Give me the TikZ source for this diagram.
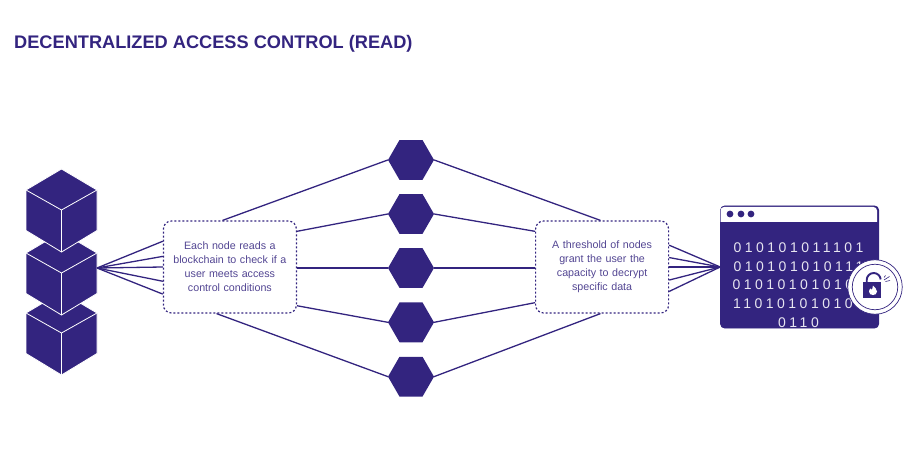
\documentclass[tikz,border=0pt]{standalone}
\usepackage{fontspec}
\setmainfont{Liberation Sans}
\usepackage{xcolor}
\usetikzlibrary{positioning, shapes.geometric}
\definecolor{deeppurple}{HTML}{33247F}

\begin{document}
\begin{tikzpicture}[
  x=1pt, y=-1pt,
  hexnode/.style={regular polygon, regular polygon sides=6,
                  fill=deeppurple, inner sep=0pt, outer sep=0pt, minimum size=46pt},
  notebox/.style={draw=deeppurple, dash pattern=on 2pt off 2pt, line width=1.2pt, rounded corners=8pt,
                  minimum width=133pt, minimum height=92pt, align=center, text width=125pt,
                  font=\fontsize{10.7}{14}\selectfont, text=deeppurple!85!white},
  wire/.style={draw=deeppurple, line width=1.3pt},
  cubeblock/.pic={
    \fill[deeppurple, draw=white, line width=0.8pt]
      (0,-41) -- (35.5,-20) -- (35.5,20.5) -- (0,42) -- (-35.5,20.5) -- (-35.5,-20) -- cycle;
    \draw[white, line width=0.8pt] (-35.5,-20) -- (0,0) -- (35.5,-20) (0,0) -- (0,42);
  }
]
  % Page
  \useasboundingbox (0,0) rectangle (918,449);

  % Title
  \node[anchor=west, inner sep=0pt, text=deeppurple, font=\fontsize{18.2}{20}\selectfont\bfseries]
    (title) at (14,43.5) {DECENTRALIZED ACCESS CONTROL (READ)};

  % Cubes
  \pic at (61.5,333) {cubeblock};
  \pic at (61.5,273) {cubeblock};
  \pic at (61.5,210) {cubeblock};
  \coordinate (cubeport) at (97,268);

  % Hexagons
  \node[hexnode] (hexc) at (411,268) {};
  \node[hexnode, above=14.2pt of hexc] (hexb) {};
  \node[hexnode, above=14.2pt of hexb] (hexa) {};
  \node[hexnode, below=14.5pt of hexc] (hexd) {};
  \node[hexnode, below=14.5pt of hexd] (hexe) {};

  % Boxes
  \node[notebox, left=91pt of hexc, yshift=1pt] (readbox)
    {Each node reads a\\blockchain to check if a\\user meets access\\control conditions};
  \node[notebox, right=101pt of hexc, yshift=1pt] (thresholdbox)
    {A threshold of nodes\\grant the user the\\capacity to decrypt\\specific data};

  % Browser window
  \node[draw=deeppurple, fill=deeppurple, line width=0.8pt, rounded corners=4pt, minimum width=158pt,
        minimum height=122pt, inner sep=0pt, right=51pt of thresholdbox] (window) {};
  \fill[white] (720.5,222) [rounded corners=3.5pt] -- (720.5,207) -- (877,207) [sharp corners] -- (877,222) -- cycle;
  \foreach \dotx in {730,741,751}
    \fill[deeppurple] (\dotx,214) circle (3.4);
  \node[inner sep=0pt, align=center, text=white!88!deeppurple,
        font=\fontsize{14}{18.8}\selectfont\addfontfeature{LetterSpace=25}] (digits) at (798.5,285)
    {010101011101\\010101010111\\010101010101\\110101010101\\0110};

  % Lock badge
  \node[circle, draw=deeppurple, fill=white, line width=0.7pt, minimum size=54.5pt, inner sep=0pt] (badge) at (875,287) {};
  \node[circle, draw=deeppurple, line width=0.7pt, minimum size=45.5pt, inner sep=0pt] (badgering) at (badge) {};
  \fill[deeppurple] (863,282) rectangle (881,298);
  \draw[deeppurple, line width=1.9pt] (866.7,283) -- (866.7,280) arc[start angle=180, end angle=355, radius=7];
  \fill[white] (873,285.5) .. controls (874.5,288) and (877,288.5) .. (877,291.5)
    .. controls (877,294) and (875,295) .. (873,295)
    .. controls (871,295) and (869,294) .. (869,291.5)
    .. controls (869,290) and (870,289) .. (870.5,288.5)
    .. controls (871,289.5) and (871.5,290) .. (872,290)
    .. controls (872,288.5) and (872,287) .. (873,285.5) -- cycle;
  \draw[deeppurple, line width=0.6pt] (884,280) -- (889.5,276.5) (885.5,281.5) -- (890,280.5) (884,277.5) -- (885.5,275.5);

  % Edges
  \foreach \ang in {159,171,180,192,202}
    \draw[wire] (cubeport) -- (readbox.\ang);
  \draw[wire] (readbox.99) -- (hexa.west);
  \draw[wire] (readbox.28) -- (hexb.west);
  \draw[wire] (hexc.west -| readbox.east) -- (hexc.west);
  \draw[wire] (readbox.-30) -- (hexd.west);
  \draw[wire] (readbox.-106) -- (hexe.west);
  \draw[wire] (hexa.east) -- (thresholdbox.92);
  \draw[wire] (hexb.east) -- (thresholdbox.152);
  \draw[wire] (hexc.east) -- (hexc.east -| thresholdbox.west);
  \draw[wire] (hexd.east) -- (thresholdbox.208);
  \draw[wire] (hexe.east) -- (thresholdbox.-92);
  \foreach \ang in {18,8,0,-11,-20}
    \draw[wire] (thresholdbox.\ang) -- (window.west);
\end{tikzpicture}
\end{document}
